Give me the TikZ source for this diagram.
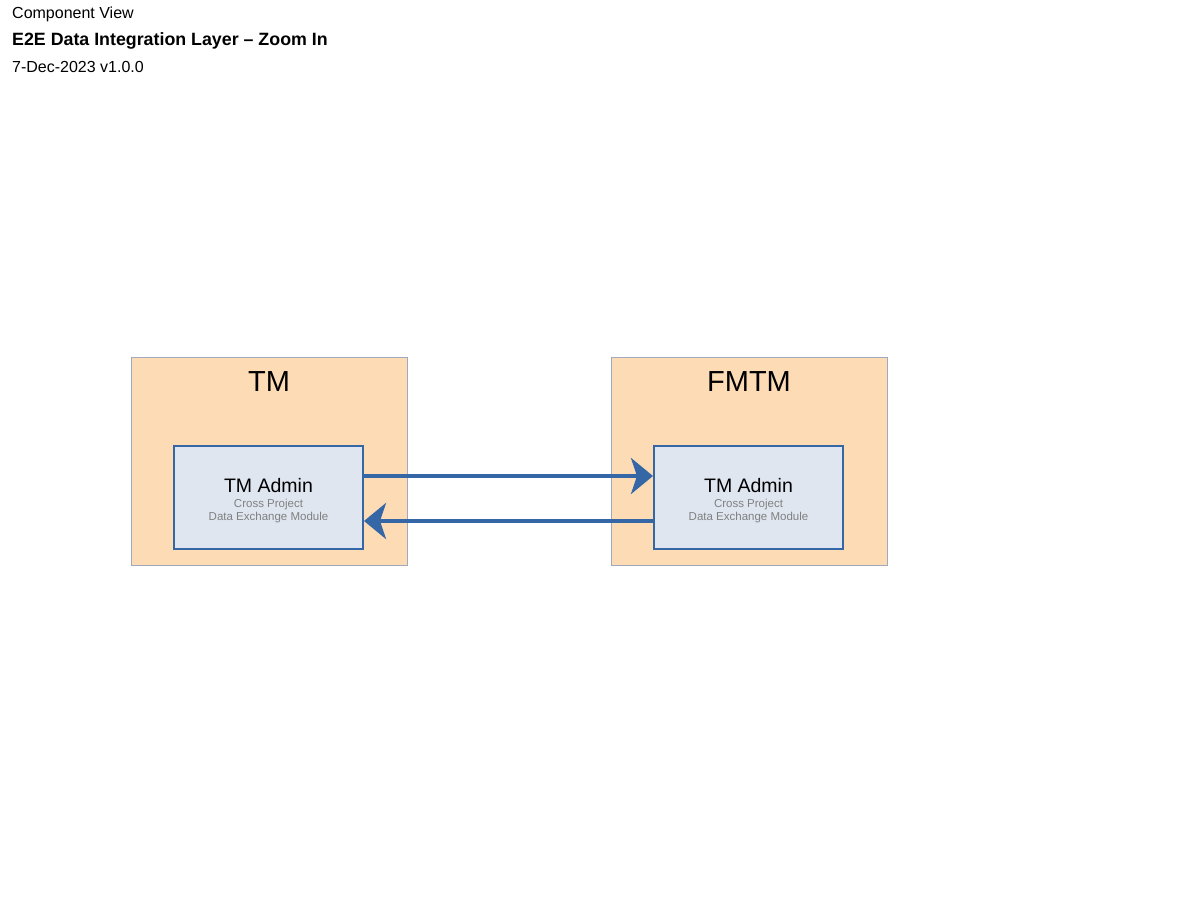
\documentclass[tikz,border=0pt]{standalone}
\usepackage{fontspec}
\setmainfont{Liberation Sans}
\usetikzlibrary{arrows.meta}
\definecolor{sysfill}{HTML}{FDDBB4}
\definecolor{sysdraw}{HTML}{A0A8BE}
\definecolor{modfill}{HTML}{DFE6F0}
\definecolor{moddraw}{HTML}{3566A6}
\definecolor{subtext}{HTML}{808080}
\tikzset{
  system/.style={draw=sysdraw, fill=sysfill, line width=0.8pt, minimum width=276pt, minimum height=208pt, inner sep=0pt},
  module/.style={draw=moddraw, fill=modfill, line width=2pt, minimum width=189pt, minimum height=103pt, inner sep=0pt},
  systitle/.style={font=\fontsize{29}{34}\selectfont, anchor=base},
  modtitle/.style={font=\fontsize{19.5}{23}\selectfont, anchor=base},
  modsub/.style={font=\fontsize{11.5}{13}\selectfont, text=subtext, anchor=base, align=center},
  header/.style={anchor=base west, inner sep=0pt, font=\fontsize{16}{19}\selectfont},
  flow/.style={draw=moddraw, line width=4pt, -{Stealth[length=22pt, width=36pt, inset=6pt]}}
}
\begin{document}
\begin{tikzpicture}[x=1pt, y=-1pt]
\useasboundingbox (0,0) rectangle (1188,918);
\node[header] (h1) at (12,18) {Component View};
\node[header, font=\fontsize{17.8}{21}\selectfont\bfseries] (h2) at (12,45) {E2E Data Integration Layer – Zoom In};
\node[header] (h3) at (12,72) {7-Dec-2023 v1.0.0};

\node[system] (tm) at (269,461) {};
\node[systitle] (tmt) at (269,391) {TM};
\node[module] (tma) at (268.5,497.5) {};
\node[modtitle] (tmat) at (268.5,492) {TM Admin};
\node[modsub] (tmas1) at (268.5,507) {Cross Project};
\node[modsub] (tmas2) at (268.5,520) {Data Exchange Module};

\node[system] (fm) at (749,461) {};
\node[systitle] (fmt) at (749,391) {FMTM};
\node[module] (fma) at (748.5,497.5) {};
\node[modtitle] (fmat) at (748.5,492) {TM Admin};
\node[modsub] (fmas1) at (748.5,507) {Cross Project};
\node[modsub] (fmas2) at (748.5,520) {Data Exchange Module};

\draw[flow] (tma.east |- 0,476) -- (fma.west |- 0,476);
\draw[flow] (fma.west |- 0,521) -- (tma.east |- 0,521);
\end{tikzpicture}
\end{document}
